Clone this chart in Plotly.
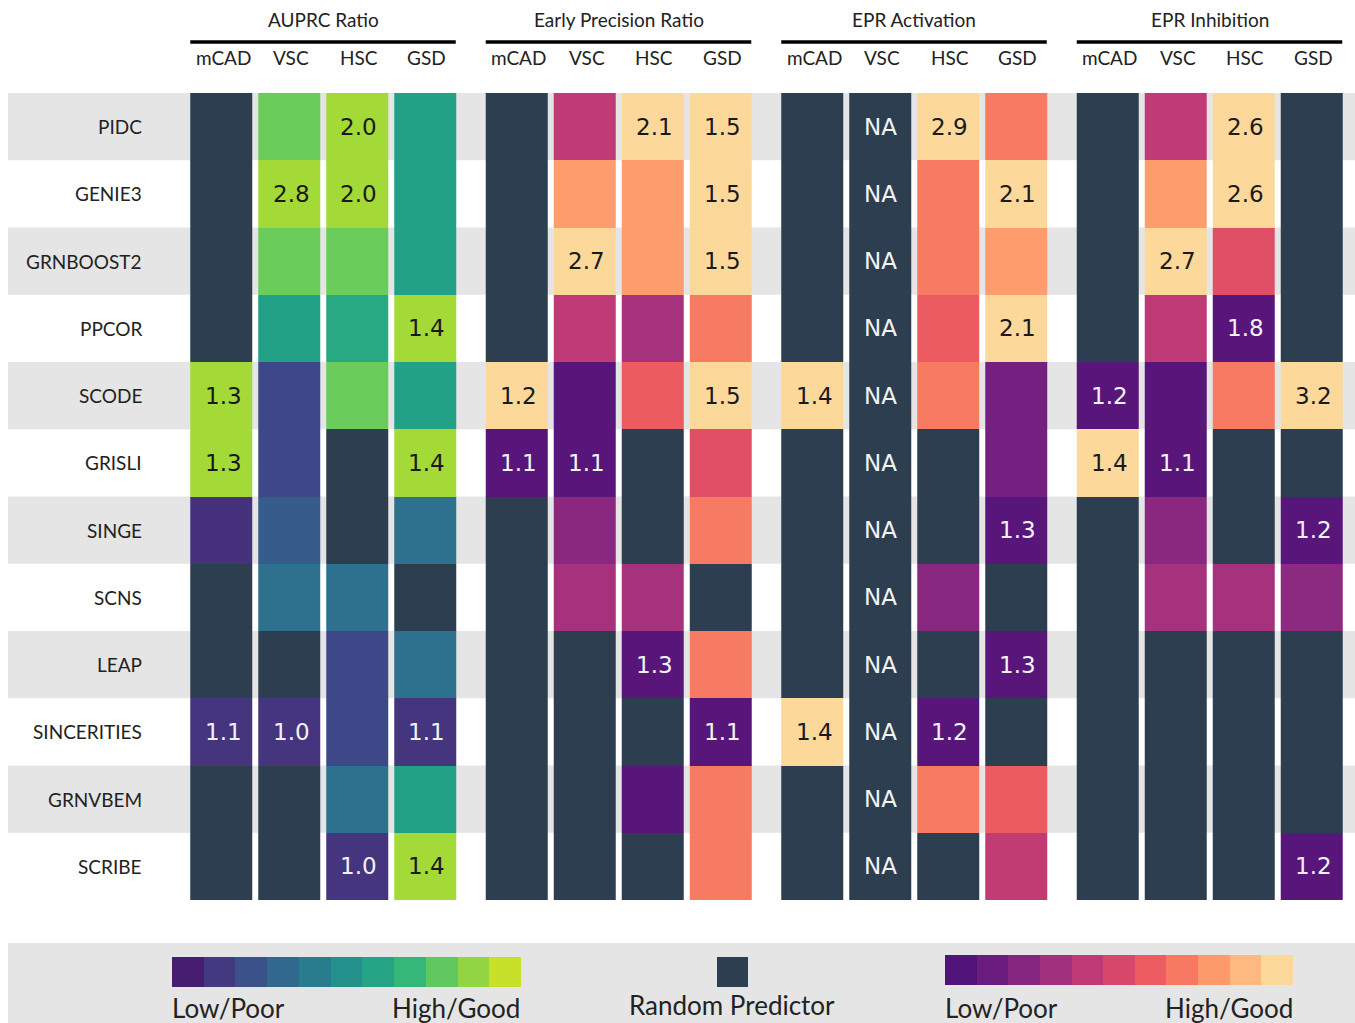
import math
import plotly.graph_objects as go

W, H = 1355, 1023

methods = ["PIDC", "GENIE3", "GRNBOOST2", "PPCOR", "SCODE", "GRISLI",
           "SINGE", "SCNS", "LEAP", "SINCERITIES", "GRNVBEM", "SCRIBE"]
datasets = ["mCAD", "VSC", "HSC", "GSD"]
metrics = ["AUPRC Ratio", "Early Precision Ratio", "EPR Activation", "EPR Inhibition"]

R = None  # random predictor / not available

# colour score of each cell (position on the colour palette, 0-1); None = random predictor
auprc_score = [
    [R, 0.77, 0.86, 0.57],
    [R, 0.86, 0.86, 0.57],
    [R, 0.77, 0.77, 0.57],
    [R, 0.57, 0.60, 0.86],
    [0.86, 0.22, 0.77, 0.57],
    [0.86, 0.22, R, 0.86],
    [0.14, 0.29, R, 0.37],
    [R, 0.37, 0.37, R],
    [R, R, 0.22, 0.37],
    [0.15, 0.15, 0.22, 0.15],
    [R, R, 0.37, 0.57],
    [R, R, 0.15, 0.86],
]
auprc_label = [
    ["", "", "2.0", ""],
    ["", "2.8", "2.0", ""],
    ["", "", "", ""],
    ["", "", "", "1.4"],
    ["1.3", "", "", ""],
    ["1.3", "", "", "1.4"],
    ["", "", "", ""],
    ["", "", "", ""],
    ["", "", "", ""],
    ["1.1", "1.0", "", "1.1"],
    ["", "", "", ""],
    ["", "", "1.0", "1.4"],
]

ep_score = [
    [R, 0.525, 0.92, 0.92],
    [R, 0.79, 0.79, 0.92],
    [R, 0.92, 0.79, 0.92],
    [R, 0.525, 0.463, 0.72],
    [0.92, 0.27, 0.65, 0.92],
    [0.27, 0.27, R, 0.61],
    [R, 0.394, R, 0.72],
    [R, 0.463, 0.463, R],
    [R, R, 0.27, 0.72],
    [R, R, R, 0.27],
    [R, R, 0.27, 0.72],
    [R, R, R, 0.72],
]
ep_label = [
    ["", "", "2.1", "1.5"],
    ["", "", "", "1.5"],
    ["", "2.7", "", "1.5"],
    ["", "", "", ""],
    ["1.2", "", "", "1.5"],
    ["1.1", "1.1", "", ""],
    ["", "", "", ""],
    ["", "", "", ""],
    ["", "", "1.3", ""],
    ["", "", "", "1.1"],
    ["", "", "", ""],
    ["", "", "", ""],
]

act_score = [
    [R, R, 0.92, 0.72],
    [R, R, 0.72, 0.92],
    [R, R, 0.72, 0.79],
    [R, R, 0.65, 0.92],
    [0.92, R, 0.72, 0.34],
    [R, R, R, 0.34],
    [R, R, R, 0.27],
    [R, R, 0.39, R],
    [R, R, R, 0.27],
    [0.92, R, 0.27, R],
    [R, R, 0.72, 0.65],
    [R, R, R, 0.53],
]
act_label = [
    ["", "NA", "2.9", ""],
    ["", "NA", "", "2.1"],
    ["", "NA", "", ""],
    ["", "NA", "", "2.1"],
    ["1.4", "NA", "", ""],
    ["", "NA", "", ""],
    ["", "NA", "", "1.3"],
    ["", "NA", "", ""],
    ["", "NA", "", "1.3"],
    ["1.4", "NA", "1.2", ""],
    ["", "NA", "", ""],
    ["", "NA", "", ""],
]

inh_score = [
    [R, 0.525, 0.92, R],
    [R, 0.79, 0.92, R],
    [R, 0.92, 0.61, R],
    [R, 0.525, 0.27, R],
    [0.27, 0.27, 0.72, 0.92],
    [0.92, 0.27, R, R],
    [R, 0.394, R, 0.27],
    [R, 0.463, 0.463, 0.40],
    [R, R, R, R],
    [R, R, R, R],
    [R, R, R, R],
    [R, R, R, 0.27],
]
inh_label = [
    ["", "", "2.6", ""],
    ["", "", "2.6", ""],
    ["", "2.7", "", ""],
    ["", "", "1.8", ""],
    ["1.2", "", "", "3.2"],
    ["1.4", "1.1", "", ""],
    ["", "", "", "1.2"],
    ["", "", "", ""],
    ["", "", "", ""],
    ["", "", "", ""],
    ["", "", "", ""],
    ["", "", "", "1.2"],
]

# legend swatch positions on each palette
legend_viridis = [0.083, 0.167, 0.25, 0.333, 0.417, 0.5, 0.583, 0.667, 0.75, 0.833, 0.917]
legend_magma = [0.25, 0.317, 0.384, 0.451, 0.518, 0.585, 0.652, 0.719, 0.786, 0.853, 0.92]
legend_low, legend_high, legend_rp = "Low/Poor", "High/Good", "Random Predictor"

RP_COLOR = "#2c3e50"
BAND = "#e5e5e5"
LABEL_FONT = "Lato"
CELL_FONT = "DejaVu Sans"

scores = [auprc_score, ep_score, act_score, inh_score]
labels = [auprc_label, ep_label, act_label, inh_label]
scales = ["Viridis", "Magma", "Magma", "Magma"]

fig = go.Figure()
annotations = []
shapes = []

# layout geometry (pixels)
group_left0, group_pitch, group_width = 187.25, 295.5, 271.5
grid_top, grid_bottom = 93, 900


def px_x(v):
    return v / W


def px_y(v):
    return (H - v) / H


def nan(v):
    return float("nan") if v is None else v


for g in range(4):
    xa = "x" if g == 0 else f"x{g + 1}"
    sc = scores[g]
    z = [[nan(v) for v in row] for row in sc]
    zrp = [[1 if v is None else float("nan") for v in row] for row in sc]
    fig.add_trace(go.Heatmap(
        z=zrp, x=datasets, y=methods, xaxis=xa, yaxis="y",
        colorscale=[[0, RP_COLOR], [1, RP_COLOR]], showscale=False,
        xgap=6, ygap=0, hoverinfo="skip"))
    fig.add_trace(go.Heatmap(
        z=z, x=datasets, y=methods, xaxis=xa, yaxis="y",
        colorscale=scales[g], zmin=0, zmax=1, showscale=False,
        xgap=6, ygap=0, hoverinfo="skip"))
    left = group_left0 + g * group_pitch
    right = left + group_width
    ax = dict(domain=[px_x(left), px_x(right)], range=[-0.5, 3.5],
              showticklabels=False, showgrid=False, zeroline=False,
              showline=False, ticks="", anchor="y", fixedrange=True)
    fig.layout["xaxis" if g == 0 else f"xaxis{g + 1}"] = ax
    # group title and underline
    annotations.append(dict(text=metrics[g], xref="paper", yref="paper",
                            x=px_x((left + right) / 2), y=px_y(20), showarrow=False,
                            font=dict(family=LABEL_FONT, size=19, color="#222"),
                            xanchor="center", yanchor="middle"))
    shapes.append(dict(type="line", xref="paper", yref="paper",
                       x0=px_x(left + 3), x1=px_x(right - 3), y0=px_y(42), y1=px_y(42),
                       line=dict(color="black", width=3.5)))
    for d in datasets:
        annotations.append(dict(text=d, xref=xa, yref="paper", x=d, y=px_y(58),
                                showarrow=False, xanchor="center", yanchor="middle",
                                xshift=2,
                                font=dict(family=LABEL_FONT, size=19, color="#222")))
    # cell labels
    for i, m in enumerate(methods):
        for j, d in enumerate(datasets):
            t = labels[g][i][j]
            if not t:
                continue
            v = sc[i][j]
            dark = v is None or v < 0.3
            annotations.append(dict(text=t, xref=xa, yref="y", x=d, y=m,
                                    showarrow=False, xanchor="center", yanchor="middle",
                                    xshift=0 if t == "NA" else 2,
                                    font=dict(family=CELL_FONT, size=23,
                                              color="#f2f2f2" if dark else "#1a1a1a")))

fig.layout["yaxis"] = dict(domain=[px_y(grid_bottom), px_y(grid_top)],
                           categoryorder="array", categoryarray=methods,
                           autorange="reversed", showticklabels=False,
                           showgrid=False, zeroline=False, ticks="", fixedrange=True)

# row labels and alternating bands
for i, m in enumerate(methods):
    annotations.append(dict(text=m, xref="paper", yref="y", x=px_x(144), y=m,
                            showarrow=False, xanchor="right", yanchor="middle",
                            font=dict(family=LABEL_FONT, size=19, color="#222")))
    if i % 2 == 0:
        shapes.append(dict(type="rect", xref="paper", yref="y", x0=px_x(8), x1=1,
                           y0=i - 0.5, y1=i + 0.5, fillcolor=BAND,
                           line=dict(width=0), layer="below"))

# legend band
shapes.append(dict(type="rect", xref="paper", yref="paper", x0=px_x(8), x1=1,
                   y0=0, y1=px_y(943), fillcolor=BAND, line=dict(width=0), layer="below"))

hidden = dict(showticklabels=False, showgrid=False, zeroline=False, ticks="",
              showline=False, fixedrange=True)
fig.add_trace(go.Heatmap(z=[legend_viridis], xaxis="x5", yaxis="y2",
                         colorscale="Viridis", zmin=0, zmax=1, showscale=False,
                         hoverinfo="skip"))
fig.add_trace(go.Heatmap(z=[legend_magma], xaxis="x6", yaxis="y3",
                         colorscale="Magma", zmin=0, zmax=1, showscale=False,
                         hoverinfo="skip"))
fig.add_trace(go.Heatmap(z=[[1]], xaxis="x7", yaxis="y2",
                         colorscale=[[0, RP_COLOR], [1, RP_COLOR]], showscale=False,
                         hoverinfo="skip"))
fig.layout["xaxis5"] = dict(domain=[px_x(172), px_x(521)], anchor="y2", **hidden)
fig.layout["xaxis6"] = dict(domain=[px_x(945), px_x(1293)], anchor="y3", **hidden)
fig.layout["xaxis7"] = dict(domain=[px_x(717), px_x(748)], anchor="y2", **hidden)
fig.layout["yaxis2"] = dict(domain=[px_y(987), px_y(957)], anchor="x5", **hidden)
fig.layout["yaxis3"] = dict(domain=[px_y(985), px_y(955)], anchor="x6", **hidden)

leg_font = dict(family=LABEL_FONT, size=26, color="#222")
for x, anchor, text in [(170, "left", legend_low), (522, "right", legend_high),
                        (943, "left", legend_low), (1295, "right", legend_high)]:
    annotations.append(dict(text=text, xref="paper", yref="paper", x=px_x(x),
                            y=px_y(1008), showarrow=False, xanchor=anchor,
                            yanchor="middle", font=leg_font))
annotations.append(dict(text=legend_rp, xref="paper", yref="paper", x=px_x(732),
                        y=px_y(1005), showarrow=False, xanchor="center",
                        yanchor="middle", font=leg_font))

fig.update_layout(width=W, height=H, margin=dict(l=0, r=0, t=0, b=0),
                  paper_bgcolor="white", plot_bgcolor="rgba(0,0,0,0)",
                  showlegend=False, annotations=annotations, shapes=shapes)

fig.write_html("out.html", include_plotlyjs=True,
               config={"displayModeBar": False},
               post_script="document.body.style.margin='0';")
